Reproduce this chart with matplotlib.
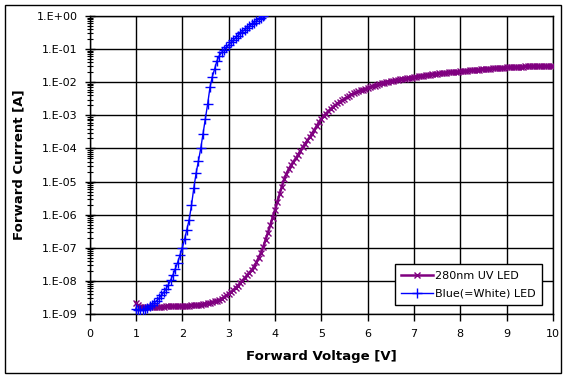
import matplotlib
matplotlib.use("Agg")
import matplotlib.pyplot as plt
from matplotlib.patches import Rectangle
from matplotlib.ticker import FixedLocator, LogLocator, NullFormatter
import numpy as np

# ── Data (log10 of current in A) ────────────────────────────────
uv_voltage = [
    1.00, 1.05, 1.10, 1.15, 1.20, 1.25, 1.30, 1.35, 1.40, 1.45,
    1.50, 1.55, 1.60, 1.65, 1.70, 1.75, 1.80, 1.85, 1.90, 1.95,
    2.00, 2.05, 2.10, 2.15, 2.20, 2.25, 2.30, 2.35, 2.40, 2.45,
    2.50, 2.55, 2.60, 2.65, 2.70, 2.75, 2.80, 2.85, 2.90, 2.95,
    3.00, 3.05, 3.10, 3.15, 3.20, 3.25, 3.30, 3.35, 3.40, 3.45,
    3.50, 3.55, 3.60, 3.65, 3.70, 3.75, 3.80, 3.85, 3.90, 3.95,
    4.00, 4.05, 4.10, 4.15, 4.20, 4.25, 4.30, 4.35, 4.40, 4.45,
    4.50, 4.55, 4.60, 4.65, 4.70, 4.75, 4.80, 4.85, 4.90, 4.95,
    5.00, 5.05, 5.10, 5.15, 5.20, 5.25, 5.30, 5.35, 5.40, 5.45,
    5.50, 5.55, 5.60, 5.65, 5.70, 5.75, 5.80, 5.85, 5.90, 5.95,
    6.00, 6.05, 6.10, 6.15, 6.20, 6.25, 6.30, 6.35, 6.40, 6.45,
    6.50, 6.55, 6.60, 6.65, 6.70, 6.75, 6.80, 6.85, 6.90, 6.95,
    7.00, 7.05, 7.10, 7.15, 7.20, 7.25, 7.30, 7.35, 7.40, 7.45,
    7.50, 7.55, 7.60, 7.65, 7.70, 7.75, 7.80, 7.85, 7.90, 7.95,
    8.00, 8.05, 8.10, 8.15, 8.20, 8.25, 8.30, 8.35, 8.40, 8.45,
    8.50, 8.55, 8.60, 8.65, 8.70, 8.75, 8.80, 8.85, 8.90, 8.95,
    9.00, 9.05, 9.10, 9.15, 9.20, 9.25, 9.30, 9.35, 9.40, 9.45,
    9.50, 9.55, 9.60, 9.65, 9.70, 9.75, 9.80, 9.85, 9.90, 9.95,
    10.00,
]
uv_log_current = [
    -8.66, -8.74, -8.78, -8.80, -8.80, -8.80, -8.79, -8.79, -8.79, -8.78,
    -8.78, -8.78, -8.78, -8.77, -8.77, -8.77, -8.77, -8.76, -8.76, -8.76,
    -8.76, -8.75, -8.75, -8.75, -8.74, -8.74, -8.73, -8.73, -8.72, -8.71,
    -8.70, -8.68, -8.66, -8.64, -8.62, -8.60, -8.58, -8.54, -8.49, -8.44,
    -8.39, -8.34, -8.28, -8.21, -8.14, -8.07, -7.99, -7.91, -7.83, -7.75,
    -7.67, -7.57, -7.44, -7.30, -7.15, -6.97, -6.76, -6.54, -6.32, -6.10,
    -5.87, -5.63, -5.39, -5.15, -4.93, -4.76, -4.62, -4.50, -4.40, -4.30,
    -4.19, -4.07, -3.96, -3.86, -3.76, -3.66, -3.55, -3.44, -3.33, -3.20,
    -3.11, -3.03, -2.95, -2.88, -2.81, -2.75, -2.70, -2.64, -2.59, -2.55,
    -2.50, -2.46, -2.41, -2.37, -2.34, -2.31, -2.28, -2.25, -2.22, -2.20,
    -2.18, -2.15, -2.12, -2.10, -2.07, -2.05, -2.03, -2.01, -2.00, -1.98,
    -1.97, -1.95, -1.94, -1.93, -1.91, -1.90, -1.89, -1.88, -1.87, -1.86,
    -1.84, -1.83, -1.82, -1.81, -1.80, -1.79, -1.78, -1.77, -1.76, -1.75,
    -1.74, -1.73, -1.73, -1.72, -1.71, -1.70, -1.70, -1.69, -1.68, -1.68,
    -1.67, -1.66, -1.66, -1.65, -1.64, -1.64, -1.63, -1.62, -1.62, -1.61,
    -1.60, -1.60, -1.59, -1.59, -1.58, -1.58, -1.57, -1.57, -1.56, -1.56,
    -1.55, -1.55, -1.54, -1.54, -1.54, -1.53, -1.53, -1.53, -1.52, -1.52,
    -1.52, -1.52, -1.52, -1.51, -1.51, -1.51, -1.51, -1.51, -1.51, -1.52,
    -1.52,
]

blue_voltage = [
    1.00, 1.05, 1.10, 1.15, 1.20, 1.25, 1.30, 1.35, 1.40, 1.45,
    1.50, 1.55, 1.60, 1.65, 1.70, 1.75, 1.80, 1.85, 1.90, 1.95,
    2.00, 2.05, 2.10, 2.15, 2.20, 2.25, 2.30, 2.35, 2.40, 2.45,
    2.50, 2.55, 2.60, 2.65, 2.70, 2.75, 2.80, 2.85, 2.90, 2.95,
    3.00, 3.05, 3.10, 3.15, 3.20, 3.25, 3.30, 3.35, 3.40, 3.45,
    3.50, 3.55, 3.60, 3.65, 3.70, 3.75, 3.77,
]
blue_log_current = [
    -8.85, -8.87, -8.88, -8.87, -8.85, -8.82, -8.77, -8.72, -8.66, -8.60,
    -8.52, -8.44, -8.35, -8.24, -8.12, -7.98, -7.82, -7.64, -7.45, -7.23,
    -7.00, -6.75, -6.45, -6.15, -5.72, -5.20, -4.75, -4.38, -4.00, -3.55,
    -3.10, -2.65, -2.15, -1.83, -1.60, -1.35, -1.20, -1.10, -1.02, -0.95,
    -0.87, -0.80, -0.73, -0.66, -0.59, -0.52, -0.47, -0.41, -0.36, -0.31,
    -0.25, -0.20, -0.15, -0.10, -0.05, 0.00, 0.02,
]

x_ticks = [0, 1, 2, 3, 4, 5, 6, 7, 8, 9, 10]
y_ticks = [1e-9, 1e-8, 1e-7, 1e-6, 1e-5, 1e-4, 1e-3, 1e-2, 1e-1, 1e0]
y_tick_labels = ["1.E-09", "1.E-08", "1.E-07", "1.E-06", "1.E-05",
                 "1.E-04", "1.E-03", "1.E-02", "1.E-01", "1.E+00"]

uv_current = 10.0 ** np.array(uv_log_current)
blue_current = 10.0 ** np.array(blue_log_current)

plt.rcParams["font.family"] = "DejaVu Sans"

W, H = 568, 380
fig = plt.figure(figsize=(W / 100, H / 100), dpi=100)
fig.patch.set_facecolor("white")

# outer chart frame
fig.patches.append(Rectangle((5 / W, 1 - 373 / H), 556 / W, 368 / H,
                             transform=fig.transFigure, fill=False,
                             edgecolor="black", linewidth=1.0))

ax = fig.add_axes([89.5 / W, 1 - 314 / H, (553 - 89.5) / W, (314 - 16) / H])

ax.plot(uv_voltage, uv_current, color="#800080", linewidth=1.8,
        marker="x", markersize=4.5, markeredgewidth=1.0,
        label="280nm UV LED", zorder=3)
ax.plot(blue_voltage, blue_current, color="#0000FF", linewidth=1.0,
        marker="+", markersize=7, markeredgewidth=1.0,
        label="Blue(=White) LED", zorder=4)

ax.set_yscale("log")
ax.set_xlim(0, 10)
ax.set_ylim(1e-9, 1e0)

ax.xaxis.set_major_locator(FixedLocator(x_ticks))
ax.set_xticklabels([str(t) for t in x_ticks])
ax.yaxis.set_major_locator(FixedLocator(y_ticks))
ax.set_yticklabels(y_tick_labels)
ax.yaxis.set_minor_locator(LogLocator(base=10, subs=np.arange(2, 10), numticks=20))
ax.yaxis.set_minor_formatter(NullFormatter())

ax.tick_params(axis="x", which="major", direction="out", length=5,
               width=1, pad=6, labelsize=8)
ax.tick_params(axis="y", which="major", direction="inout", length=7,
               width=1, pad=5, labelsize=8)
ax.tick_params(axis="y", which="minor", direction="inout", length=5,
               width=0.8)

ax.grid(True, which="major", color="black", linewidth=1.0)
for s in ax.spines.values():
    s.set_color("black")
    s.set_linewidth(1.0)

ax.set_xlabel("Forward Voltage [V]", fontsize=9.5, fontweight="bold", labelpad=8)
ax.set_ylabel("Forward Current [A]", fontsize=9.5, fontweight="bold", labelpad=8)

leg = ax.legend(loc="lower right", bbox_to_anchor=(542 / W, 1 - 305 / H),
                bbox_transform=fig.transFigure, fontsize=8, frameon=True,
                fancybox=False, framealpha=1, edgecolor="black",
                handlelength=2.9, handletextpad=0.2, borderpad=0.55,
                labelspacing=0.75, borderaxespad=0)
leg.get_frame().set_linewidth(1.0)

fig.savefig("out.png", dpi=100)
